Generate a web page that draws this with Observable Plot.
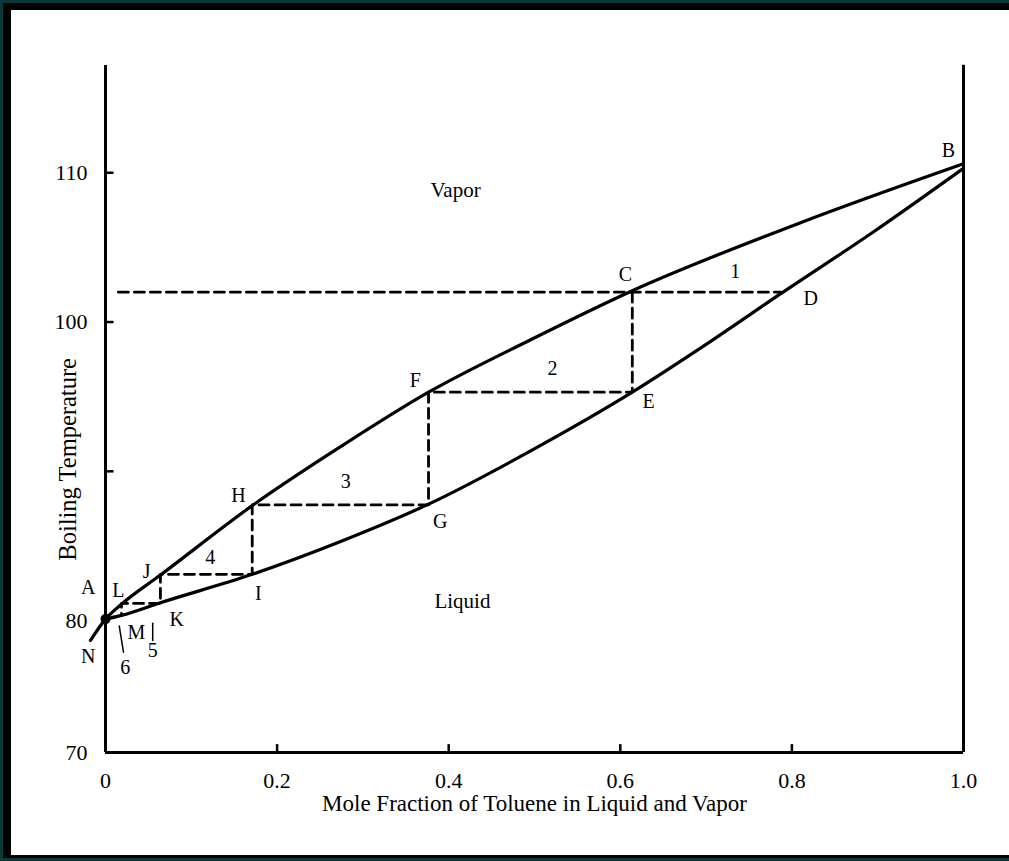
<!DOCTYPE html>
<html><head><meta charset="utf-8">
<script src="https://cdn.jsdelivr.net/npm/d3@7"></script>
<script src="https://cdn.jsdelivr.net/npm/@observablehq/plot@0.6"></script>
<style>
html,body{margin:0;padding:0;background:#093a3a;width:1009px;height:861px;overflow:hidden}
#frame{position:absolute;left:3px;top:3px;width:1006px;height:855px;background:#000}
#paper{position:absolute;left:11px;top:10px;width:998px;height:845px;background:#fff}
#chart{position:absolute;left:0;top:0}
</style></head><body>
<div id="frame"></div><div id="paper"></div><div id="chart"></div>
<script>
// Vapor (dew-point) curve: mole fraction toluene vs boiling temperature
const vaporX = [-0.0175, 0, 0.0186, 0.064, 0.171, 0.274, 0.3765, 0.495, 0.614, 0.810, 1.0];
const vaporT = [78.5, 80.1, 81.1, 83.05, 87.7, 91.65, 95.3, 98.8, 102.1, 106.65, 110.6];
// Liquid (bubble-point) curve
const liquidX = [0, 0.0186, 0.064, 0.171, 0.274, 0.3765, 0.495, 0.614, 0.700, 0.787, 0.894, 1.0];
const liquidT = [80.1, 80.35, 81.2, 83.1, 85.3, 87.8, 91.35, 95.3, 98.5, 101.9, 106.0, 110.3];
// Distillation stages (C, E, F, G, H, I, J, K, L, M)
const stageX = [0.614, 0.614, 0.3765, 0.3765, 0.171, 0.171, 0.064, 0.064, 0.0186, 0.0186];
const stageT = [102.0, 95.3, 95.3, 87.75, 87.75, 83.1, 83.1, 81.15, 81.15, 80.35];
// First tie line from the temperature axis through C to D
const tieTopX = [0.015, 0.787];
const tieTopT = [102.0, 102.0];
// Leader lines for stage labels 5 and 6
const leader5X = [0.055, 0.055];
const leader5T = [79.8, 78.5];
const leader6X = [0.016, 0.021];
const leader6T = [79.6, 77.6];
// Point letters
const letterNames = ["A","B","C","D","E","F","G","H","I","J","K","L","M","N"];
const letterX = [-0.020, 0.9825, 0.606, 0.822, 0.633, 0.361, 0.390, 0.155, 0.178, 0.048, 0.083, 0.015, 0.036, -0.020];
const letterT = [82.2, 111.5, 103.2, 101.6, 94.7, 96.1, 86.6, 88.4, 81.8, 83.3, 80.1, 82.0, 79.1, 77.3];
// Stage numbers
const stageNames = ["1","2","3","4","5","6"];
const stageLabelX = [0.734, 0.521, 0.280, 0.122, 0.055, 0.023];
const stageLabelT = [103.4, 96.9, 89.3, 84.2, 77.7, 76.4];
// Region labels
const regionNames = ["Vapor", "Liquid"];
const regionX = [0.408, 0.416];
const regionT = [108.8, 81.3];
// Ticks
const xTickValues = [0, 0.2, 0.4, 0.6, 0.8, 1.0];
const xTickLabels = ["0", "0.2", "0.4", "0.6", "0.8", "1.0"];
const xTickMarks = [0.2, 0.4, 0.6, 0.8];
const yTickMarks = [110, 100, 90];
const yTickLabels = [110, 100, 80, 70];
const yTitleT = 90.8;
const junction = {x: 0, T: 80.1};

// The printed temperature axis is not evenly spaced (70→80 is shorter); mimic it.
const axisWarp = d3.scaleLinear().domain([70, 80, 110]).range([70, 79.1, 110]);

const zip = (xs, ts) => xs.map((x, i) => ({x, T: ts[i]}));
const vapor = zip(vaporX, vaporT);
const liquid = zip(liquidX, liquidT);
const stages = zip(stageX, stageT);
const tieTop = zip(tieTopX, tieTopT);
const letters = letterNames.map((n, i) => ({n, x: letterX[i], T: letterT[i]}));
const stageLabels = stageNames.map((n, i) => ({n, x: stageLabelX[i], T: stageLabelT[i]}));
const regions = regionNames.map((n, i) => ({n, x: regionX[i], T: regionT[i]}));

const chart = Plot.plot({
  width: 1009, height: 861,
  marginLeft: 105, marginRight: 46, marginTop: 65, marginBottom: 109,
  x: {domain: [0, 1], axis: null},
  y: {domain: [70, 117.4], transform: axisWarp, axis: null},
  style: {background: "none", fontFamily: "'Liberation Serif', 'Times New Roman', serif", color: "#000", overflow: "visible"},
  marks: [
    Plot.ruleX([0], {stroke: "#000", strokeWidth: 3}),
    Plot.ruleX([1], {y1: 70, y2: 117.2, stroke: "#000", strokeWidth: 3}),
    Plot.ruleY([70], {stroke: "#000", strokeWidth: 3}),
    Plot.ruleX(xTickMarks, {y1: 70, y2: 70.6, stroke: "#000", strokeWidth: 2.5}),
    Plot.ruleY(yTickMarks, {x1: 0, x2: 0.01, stroke: "#000", strokeWidth: 2.5}),
    Plot.text(xTickValues, {x: d => d, y: 70, text: (d, i) => xTickLabels[i], dy: 28, fontSize: 22}),
    Plot.text(yTickLabels, {x: 0, y: d => d, text: d => String(d), textAnchor: "end", dx: -18, fontSize: 22}),
    Plot.text(["Mole Fraction of Toluene in Liquid and Vapor"], {frameAnchor: "bottom", dy: 58, fontSize: 23}),
    Plot.text(["Boiling Temperature"], {x: 0, y: yTitleT, dx: -37, rotate: -90, fontSize: 24.5}),
    Plot.line(tieTop, {x: "x", y: "T", stroke: "#000", strokeWidth: 2.8, strokeDasharray: "10,6"}),
    Plot.line(stages, {x: "x", y: "T", stroke: "#000", strokeWidth: 2.8, strokeDasharray: "10,6"}),
    Plot.line(zip(leader5X, leader5T), {x: "x", y: "T", stroke: "#000", strokeWidth: 1.5}),
    Plot.line(zip(leader6X, leader6T), {x: "x", y: "T", stroke: "#000", strokeWidth: 1.5}),
    Plot.line(vapor, {x: "x", y: "T", stroke: "#000", strokeWidth: 3.2, curve: "monotone-x"}),
    Plot.line(liquid, {x: "x", y: "T", stroke: "#000", strokeWidth: 3.2, curve: "monotone-x"}),
    Plot.dot([junction], {x: "x", y: "T", r: 5, fill: "#000"}),
    Plot.text(letters, {x: "x", y: "T", text: "n", fontSize: 20}),
    Plot.text(stageLabels, {x: "x", y: "T", text: "n", fontSize: 20}),
    Plot.text(regions, {x: "x", y: "T", text: "n", fontSize: 21})
  ]
});
document.getElementById("chart").appendChild(chart);
</script></body></html>
